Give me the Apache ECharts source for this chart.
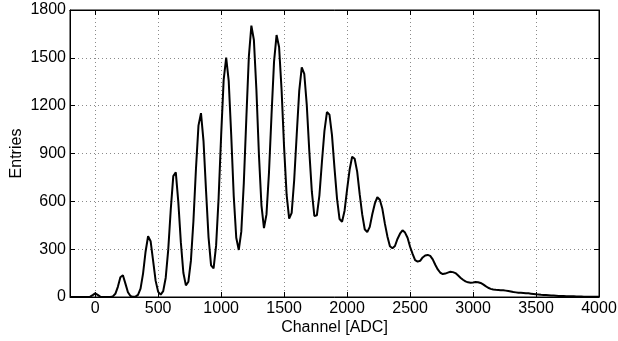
<!DOCTYPE html>
<html>
<head>
<meta charset="utf-8">
<script src="https://cdn.jsdelivr.net/npm/echarts@6/dist/echarts.min.js"></script>
<style>
html,body{margin:0;padding:0;background:#fff;}
#chart{width:618px;height:341px;}
</style>
</head>
<body>
<div id="chart"></div>
<script>
const channels = [
  -200,-180,-160,-140,-120,-100,-80,-60,-40,-20,
  0,20,40,60,80,100,120,140,160,180,
  200,220,240,260,280,300,320,340,360,380,
  400,420,440,460,480,500,520,540,560,580,
  600,620,640,660,680,700,720,740,760,780,
  800,820,840,860,880,900,920,940,960,980,
  1000,1020,1040,1060,1080,1100,1120,1140,1160,1180,
  1200,1220,1240,1260,1280,1300,1320,1340,1360,1380,
  1400,1420,1440,1460,1480,1500,1520,1540,1560,1580,
  1600,1620,1640,1660,1680,1700,1720,1740,1760,1780,
  1800,1820,1840,1860,1880,1900,1920,1940,1960,1980,
  2000,2020,2040,2060,2080,2100,2120,2140,2160,2180,
  2200,2220,2240,2260,2280,2300,2320,2340,2360,2380,
  2400,2420,2440,2460,2480,2500,2520,2540,2560,2580,
  2600,2620,2640,2660,2680,2700,2720,2740,2760,2780,
  2800,2820,2840,2860,2880,2900,2920,2940,2960,2980,
  3000,3020,3040,3060,3080,3100,3120,3140,3160,3180,
  3200,3220,3240,3260,3280,3300,3320,3340,3360,3380,
  3400,3420,3440,3460,3480,3500,3520,3540,3560,3580,
  3600,3620,3640,3660,3680,3700,3720,3740,3760,3780,
  3800,3820,3840,3860,3880,3900,3920,3940,3960,3980,
  4000
];
const entries = [
  0,0,0,0,0,0,0,0,2,12,
  23,13,2,0,0,0,0,4,20,64,
  124,136,84,30,6,1,2,13,52,147,
  284,381,350,227,101,32,15,37,121,297,
  549,758,782,595,344,152,73,96,228,477,
  803,1075,1153,978,668,374,198,180,322,622,
  1012,1362,1502,1356,1016,633,372,295,410,715,
  1120,1508,1702,1612,1298,892,575,432,518,782,
  1141,1476,1643,1568,1297,935,640,492,528,734,
  1018,1293,1440,1400,1203,913,662,508,512,636,
  845,1040,1160,1144,1015,808,617,489,472,541,
  675,798,880,867,786,645,518,425,407,440,
  519,585,626,610,553,460,380,318,306,320,
  364,397,418,404,372,315,270,231,222,227,
  248,260,264,258,236,202,173,152,144,147,
  153,158,156,150,136,121,108,98,92,90,
  91,94,93,88,79,68,58,51,47,45,
  44,43,42,40,37,34,31,29,27,26,
  25,24,23,21,19,17,16,14,13,12,
  11,10,9,8,7,6,6,5,5,4,
  4,3,3,3,2,2,2,1,1,1,
  1
];
const xLabel = 'Channel [ADC]';
const yLabel = 'Entries';

const chart = echarts.init(document.getElementById('chart'), null, {renderer: 'canvas'});
const font = 'Liberation Sans, Arial, Helvetica, sans-serif';
const fs = 16;
const gridLine = {show: true, lineStyle: {color: '#8a8a8a', type: [1, 3], width: 1}};
const tick = {show: true, inside: true, length: 5, lineStyle: {color: '#000', width: 1}};
const axLine = {show: true, onZero: false, lineStyle: {color: '#000', width: 1}};
chart.setOption({
  animation: false,
  backgroundColor: '#fff',
  grid: {left: 70, right: 19, top: 10, bottom: 44, show: true, borderColor: '#000', borderWidth: 1,
    backgroundColor: 'transparent', containLabel: false, outerBoundsMode: 'none'},
  xAxis: [{
    type: 'value', min: -200, max: 4000, splitNumber: 8, minInterval: 500, maxInterval: 500,
    axisLine: axLine, axisTick: tick, splitLine: gridLine,
    axisLabel: {color: '#000', fontSize: fs, fontFamily: font, margin: 4, showMinLabel: false,
      formatter: v => (v % 500 === 0 ? String(v) : '')},
    name: xLabel, nameLocation: 'middle', nameGap: 23, nameMoveOverlap: false,
    nameTextStyle: {color: '#000', fontSize: fs, fontFamily: font}
  }, {
    type: 'value', position: 'top', min: -200, max: 4000, splitNumber: 8, minInterval: 500, maxInterval: 500,
    axisLine: axLine, axisTick: tick, splitLine: {show: false}, axisLabel: {show: false}
  }],
  yAxis: [{
    type: 'value', min: 0, max: 1800, interval: 300,
    axisLine: axLine, axisTick: tick, splitLine: gridLine,
    axisLabel: {color: '#000', fontSize: fs, fontFamily: font, margin: 4, formatter: v => String(v)},
    name: yLabel, nameLocation: 'middle', nameGap: 45, nameRotate: 90, nameMoveOverlap: false,
    nameTextStyle: {color: '#000', fontSize: fs, fontFamily: font}
  }, {
    type: 'value', position: 'right', min: 0, max: 1800, interval: 300,
    axisLine: axLine, axisTick: tick, splitLine: {show: false}, axisLabel: {show: false}
  }],
  series: [{
    type: 'line', xAxisIndex: 0, yAxisIndex: 0,
    data: channels.map((c, i) => [c, entries[i]]),
    showSymbol: false, symbol: 'none',
    lineStyle: {color: '#000', width: 2},
    silent: true
  }]
});
</script>
</body>
</html>
